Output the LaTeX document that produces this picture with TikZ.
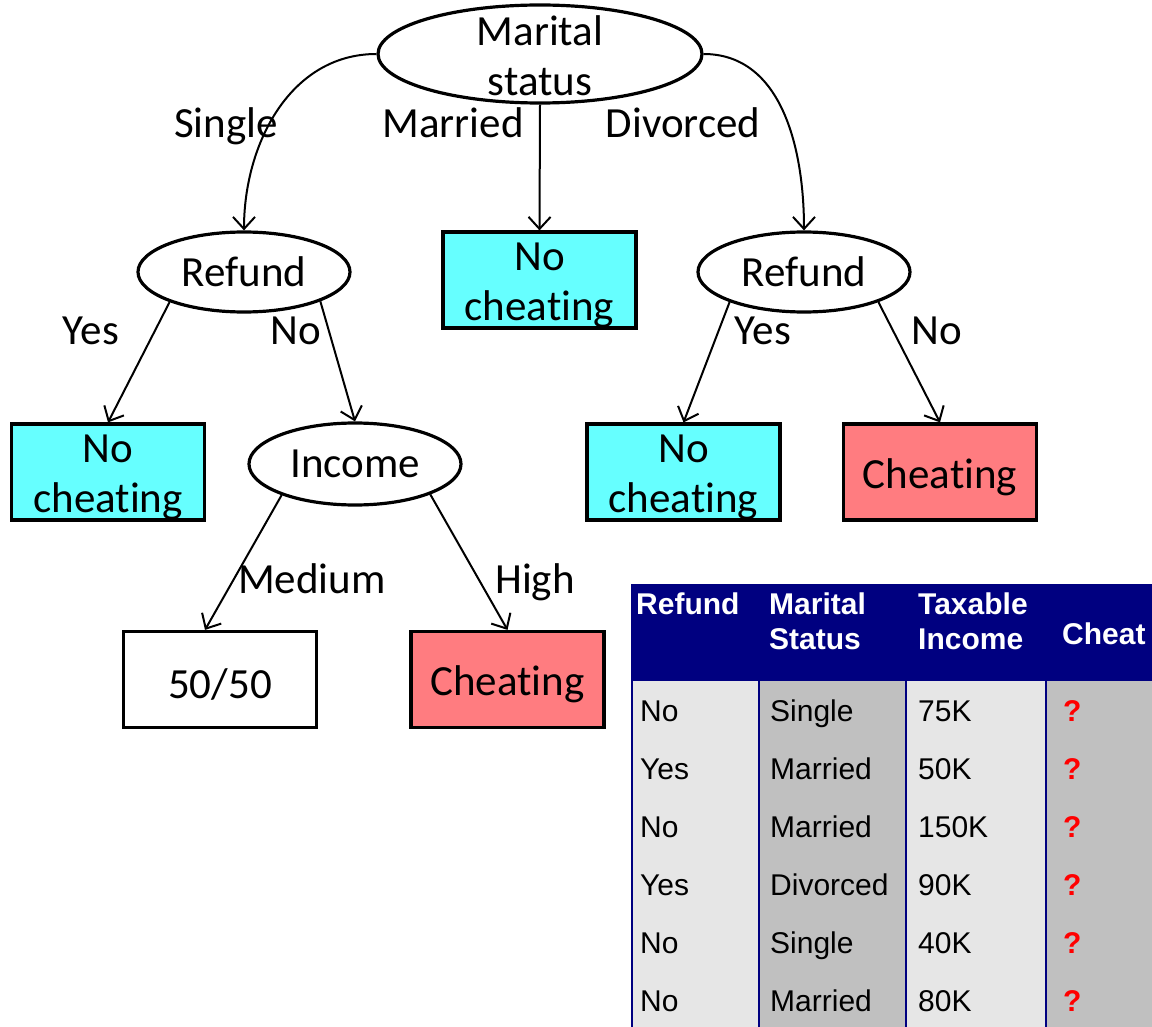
\documentclass[tikz,border=0pt]{standalone}
\usepackage{fontspec}
\setmainfont{Carlito}[Ligatures=NoCommon]
\newfontfamily\tabfont{Liberation Sans}
\usetikzlibrary{shapes.geometric,arrows.meta}
\definecolor{leafcyan}{HTML}{66FFFF}
\definecolor{leafred}{HTML}{FF7C80}
\definecolor{hdrnavy}{HTML}{000080}
\definecolor{celllight}{HTML}{E6E6E6}
\definecolor{celldark}{HTML}{C0C0C0}
\definecolor{qred}{HTML}{FF0000}

\begin{document}
\begin{tikzpicture}[x=1pt,y=-1pt,
  treefont/.style={font=\fontsize{43}{50}\selectfont},
  testnode/.style={ellipse, draw, line width=3.2pt, inner sep=0pt,
    minimum width=212pt, minimum height=80pt, treefont},
  leafbox/.style={rectangle, draw, line width=3.2pt, inner sep=0pt,
    minimum width=193pt, minimum height=96pt},
  leaftext/.style={treefont, align=center, inner sep=0pt, yshift=-5pt},
  branch/.style={line width=2pt,
    -{Straight Barb[length=12pt,width=22pt,line width=2pt]}},
  edgelabel/.style={treefont, inner sep=0pt, text height=0.7em, text depth=0.2em},
  hdrtext/.style={font=\tabfont\bfseries\fontsize{30}{35}\selectfont,
    text=white, inner sep=0pt, align=left},
  celltext/.style={font=\tabfont\fontsize{30}{35}\selectfont, inner sep=0pt, anchor=base west},
  qmark/.style={celltext, text=qred, font=\tabfont\bfseries\fontsize{30}{35}\selectfont},
]
\useasboundingbox (0,0) rectangle (1152,1027);
\fill[white] (0,0) rectangle (1152,1027);

% ---------- decision tree ----------
\node[ellipse, draw, line width=3.2pt, inner sep=0pt,
      minimum width=324pt, minimum height=98pt,
      label={[treefont, align=center, name=roottext, yshift=-2pt]center:Marital\\status}]
      (root) at (540,54) {};

\node[testnode] (refL) at (244,272) {Refund};
\node[testnode] (refR) at (804,272) {Refund};
\node[testnode, minimum height=82pt] (income) at (355,464) {Income};

\node[leafbox, fill=leafcyan, label={[leaftext]center:No\\cheating}] (midleaf) at (539.5,280) {};
\node[leafbox, fill=leafcyan, label={[leaftext]center:No\\cheating}] (leftleaf) at (108,472) {};
\node[leafbox, fill=white, label={[leaftext]center:50/50}] (fifty) at (220,679.5) {};
\node[leafbox, fill=leafred, label={[leaftext]center:Cheating}] (highleaf) at (507.5,679.5) {};
\node[leafbox, fill=leafcyan, label={[leaftext]center:No\\cheating}] (rnoleaf) at (683.5,472) {};
\node[leafbox, fill=leafred, label={[leaftext]center:Cheating}] (rcheat) at (940,472) {};

% connectors
\draw[branch] (root.west) to[out=180, in=90] (refL.north);
\draw[branch] (root.south) -- (midleaf.north);
\draw[branch] (root.east) to[out=0, in=90] (refR.north);
\draw[branch] (refL.202) -- (leftleaf.north);
\draw[branch] (refL.339) -- (income.north);
\draw[branch] (income.203) -- ([xshift=-15pt]fifty.north);
\draw[branch] (income.338) -- (highleaf.north);
\draw[branch] (refR.202) -- (rnoleaf.north);
\draw[branch] (refR.338) -- (rcheat.north);

% branch labels
\node[edgelabel] (lsingle) at (226,135) {Single};
\node[edgelabel] (lmarried) at (453,135) {Married};
\node[edgelabel] (ldivorced) at (683,135) {Divorced};
\node[edgelabel] (lyesL) at (91,342) {Yes};
\node[edgelabel] (lnoL) at (296,342) {No};
\node[edgelabel] (lyesR) at (763,342) {Yes};
\node[edgelabel] (lnoR) at (937,342) {No};
\node[edgelabel] (lmedium) at (312,591) {Medium};
\node[edgelabel] (lhigh) at (535,591) {High};

% ---------- test records table ----------
\fill[hdrnavy] (631,584) rectangle (1152,681);
\fill[celllight] (633,681) rectangle (759,1027);
\fill[celldark] (759,681) rectangle (906,1027);
\fill[celllight] (906,681) rectangle (1046,1027);
\fill[celldark] (1046,681) rectangle (1152,1027);
\foreach \cx in {632,759,906,1046}
  \draw[hdrnavy, line width=2.2pt] (\cx,681) -- (\cx,1027);

\node[hdrtext, anchor=base west] (hrefund) at (636,614) {Refund};
\node[hdrtext, anchor=west] (hmarital) at (769,621) {Marital\\Status};
\node[hdrtext, anchor=west] (hincome) at (918,621) {Taxable\\Income};
\node[hdrtext, anchor=base west] (hcheat) at (1062,644) {Cheat};

\foreach \r/\ref/\ms/\inc [count=\i] in {0/No/Single/75K, 1/Yes/Married/50K,
    2/No/Married/150K, 3/Yes/Divorced/90K, 4/No/Single/40K, 5/No/Married/80K}{
  \node[celltext] (refund\i) at (640,721+58*\r) {\ref};
  \node[celltext] (status\i) at (770,721+58*\r) {\ms};
  \node[celltext] (income\i) at (918,721+58*\r) {\inc};
  \node[qmark] (cheat\i) at (1063,721+58*\r) {?};
}
\end{tikzpicture}
\end{document}
